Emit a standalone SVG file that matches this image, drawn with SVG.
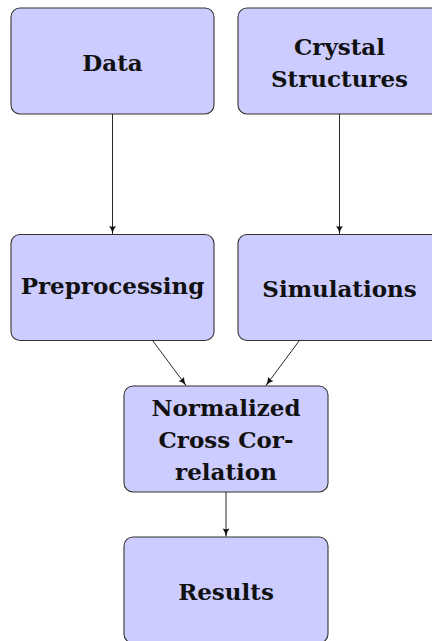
<svg xmlns="http://www.w3.org/2000/svg" width="432" height="641" viewBox="0 0 432 641">
  <style>
    .box { fill: #ccccff; stroke: #333333; stroke-width: 1.1; }
    .label { font-family: "DejaVu Serif", "Liberation Serif", serif; font-weight: bold; font-size: 23px; fill: #111111; text-anchor: middle; }
    .edge { fill: none; stroke: #111111; stroke-width: 0.9; marker-end: url(#tip); }
  </style>
  <defs>
    <marker id="tip" markerUnits="userSpaceOnUse" markerWidth="10" markerHeight="10" viewBox="0 0 10 10" refX="9" refY="5" orient="auto">
      <path d="M1,1.6 Q4,4 9,5 Q4,6 1,8.4 Q2.3,5 1,1.6 Z" fill="#111111"/>
    </marker>
  </defs>

  <g id="data">
    <rect class="box" x="11" y="8" width="203" height="106" rx="9"/>
    <text class="label" x="112.5" y="70.5">Data</text>
  </g>

  <g id="crystal-structures">
    <rect class="box" x="238" y="8" width="203" height="106" rx="9"/>
    <text class="label" x="339.5" y="54.5">Crystal</text>
    <text class="label" x="339.5" y="86.5">Structures</text>
  </g>

  <g id="preprocessing">
    <rect class="box" x="11" y="234.5" width="203" height="106" rx="9"/>
    <text class="label" x="112.5" y="294">Preprocessing</text>
  </g>

  <g id="simulations">
    <rect class="box" x="238" y="234.5" width="203" height="106" rx="9"/>
    <text class="label" x="339.5" y="296.5">Simulations</text>
  </g>

  <g id="normalized-cross-correlation">
    <rect class="box" x="124" y="386" width="204" height="106" rx="9"/>
    <text class="label" x="226" y="415.5">Normalized</text>
    <text class="label" x="226" y="447.5">Cross Cor-</text>
    <text class="label" x="226" y="479.5">relation</text>
  </g>

  <g id="results">
    <rect class="box" x="124" y="537" width="204" height="106" rx="9"/>
    <text class="label" x="226" y="600">Results</text>
  </g>

  <g id="connectors">
    <line class="edge" x1="112.5" y1="114" x2="112.5" y2="234"/>
    <line class="edge" x1="339.5" y1="114" x2="339.5" y2="234"/>
    <line class="edge" x1="152.6" y1="340.5" x2="186" y2="385.5"/>
    <line class="edge" x1="299.4" y1="340.5" x2="266" y2="385.5"/>
    <line class="edge" x1="226" y1="492" x2="226" y2="536.5"/>
  </g>
</svg>
